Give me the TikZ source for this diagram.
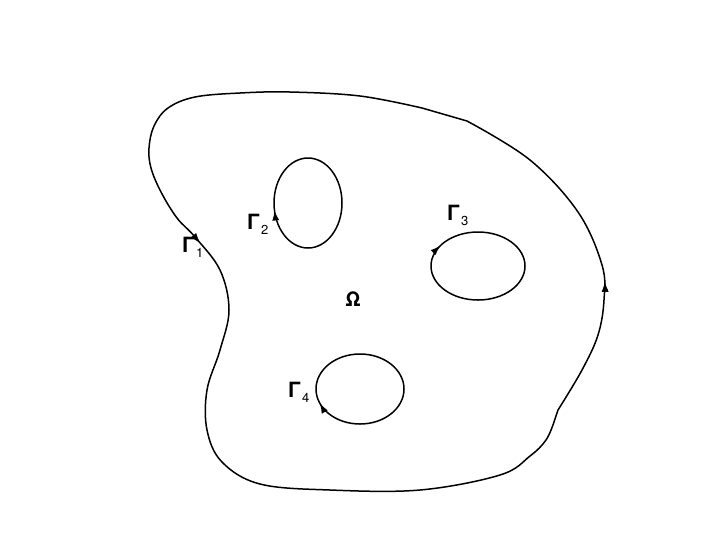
\documentclass[tikz,border=0pt]{standalone}
\usepackage{fontspec}
\setmainfont{TeX Gyre Heros}
\usetikzlibrary{decorations.markings,arrows.meta}

\newcommand\gam[1]{{\fontsize{21}{24}\selectfont\bfseries Γ}\kern1pt{\fontsize{13}{15}\selectfont\raisebox{-5pt}{#1}}}

\tikzset{
  bnd/.style={line width=1.5pt, line join=round},
  arrowat/.style={postaction={decorate},decoration={markings,
      mark=at position #1 with {\arrow{Latex[length=10pt,width=7pt]}}}},
  revarrowat/.style={postaction={decorate},decoration={markings,
      mark=at position #1 with {\arrowreversed{Latex[length=10pt,width=7pt]}}}},
  lbl/.style={inner sep=0pt, anchor=base west}
}

\begin{document}
\begin{tikzpicture}[x=1pt,y=-1pt]
  \useasboundingbox (0,0) rectangle (708,547);
  % outer boundary (two smooth pieces, kinks at top right and bottom right)
  \draw[bnd, revarrowat=0.154, revarrowat=0.678]
    plot[smooth, tension=0.6] coordinates {
      (467,121) (530,160) (578,212) (602,265) (604,300) (598,335) (582,370) (558,410)}
    -- plot[smooth, tension=0.6] coordinates {
      (554,422) (546,440) (530,456) (500,475) (420,490) (330,490) (260,484)
      (222,462) (207,430) (207,390) (220,350) (229,310) (220,270) (195,237)
      (177,218) (161,192) (151,168) (149,148) (154,126) (168,108) (195,97)
      (240,93) (290,92) (360,96) (422,108)}
    -- cycle;
  % holes
  \draw[bnd, arrowat=0.47] (308,203) ellipse [x radius=34, y radius=45];
  \draw[bnd, arrowat=0.59] (478,266) ellipse [x radius=47, y radius=34];
  \draw[bnd, arrowat=0.44] (360,389) ellipse [x radius=44, y radius=35];
  % labels
  \node[lbl] (g1) at (182,252) {\gam{1}};
  \node[lbl] (g2) at (247,229) {\gam{2}};
  \node[lbl] (g3) at (447,220) {\gam{3}};
  \node[lbl] (g4) at (288,397) {\gam{4}};
  \node[inner sep=0pt, anchor=base] (om) at (353,306) {\fontsize{20}{24}\selectfont\bfseries Ω};
\end{tikzpicture}
\end{document}
